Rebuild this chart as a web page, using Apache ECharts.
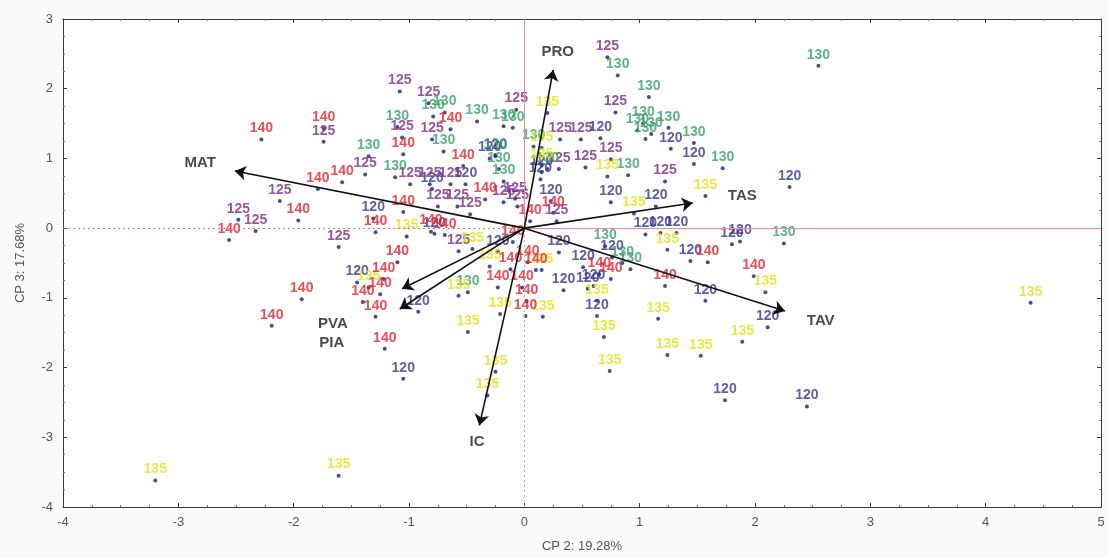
<!DOCTYPE html>
<html><head><meta charset="utf-8">
<script src="https://cdn.jsdelivr.net/npm/echarts@6/dist/echarts.min.js"></script>
<style>html,body{margin:0;padding:0;background:#fafaf8}#c{width:1108px;height:558px}</style>
</head><body><div id="c"></div>
<script>
// ---- data ----
const groupNames = ['120', '125', '130', '135', '140'];
const groupColors = ['#33378f', '#7d2c86', '#36a06a', '#e2e21a', '#e8202a'];

const g120 = [[0.66,1.29],[1.27,1.14],[1.47,0.92],[1.14,0.31],[0.75,0.37],[2.30,0.59],[-1.31,0.14],
  [-0.30,1.00],[-0.51,0.63],[-0.80,0.56],[-0.78,-0.08],[-0.23,-0.34],[0.34,-0.89],[-0.92,-1.20],
  [-1.05,-2.16],[-1.45,-0.78],[0.63,-1.26],[1.57,-1.04],[2.11,-1.42],[1.74,-2.47],[2.45,-2.56],
  [0.60,-0.83],[1.05,-0.09],[1.18,-0.07],[1.32,-0.07],[0.76,-0.42],[1.80,-0.23],[1.87,-0.19],
  [1.44,-0.47],[0.55,-0.87],[0.23,0.39],[0.15,0.80],[0.14,0.70],[-0.25,1.03],[0.51,-0.56],[0.30,-0.35]];
const g125 = [[0.72,2.45],[0.79,1.66],[1.22,0.67],[0.75,0.99],[0.53,0.87],[0.31,1.27],[0.49,1.27],
  [-0.07,1.70],[-1.08,1.96],[-0.83,1.79],[-1.06,1.30],[-0.80,1.27],[-1.74,1.24],[-2.12,0.39],
  [-2.48,0.12],[-2.33,-0.04],[-1.61,-0.27],[-1.38,0.77],[-0.99,0.63],[-0.82,0.63],[-0.64,0.63],
  [-0.75,0.31],[-0.58,0.31],[-0.18,0.37],[-0.06,0.31],[-0.57,-0.33],[0.28,0.10],[0.30,0.85],
  [-0.08,0.42],[-0.47,0.20]];
const g130 = [[0.81,2.19],[1.08,1.88],[1.03,1.50],[0.98,1.40],[1.10,1.35],[1.05,1.28],[1.25,1.44],
  [1.47,1.22],[1.72,0.86],[0.90,0.76],[2.55,2.33],[2.25,-0.22],[-1.35,1.03],[-1.10,1.45],
  [-0.18,1.46],[-0.10,1.44],[-0.41,1.53],[-0.69,1.66],[-0.70,1.10],[-0.25,1.05],[-0.22,0.85],
  [-1.12,0.73],[0.08,1.17],[0.20,0.85],[-0.18,0.67],[-0.49,-0.92],[0.70,-0.26],[0.92,-0.59],
  [0.85,-0.50],[-0.79,1.60]];
const g135 = [[-3.20,-3.62],[-1.61,-3.55],[4.39,-1.07],[-0.49,-1.49],[-0.25,-2.06],[-0.32,-2.40],
  [0.69,-1.56],[0.74,-2.05],[1.16,-1.30],[1.24,-1.82],[1.53,-1.83],[1.89,-1.63],[2.09,-0.92],
  [0.63,-1.04],[0.16,-1.27],[-0.21,-1.23],[-0.57,-0.97],[-0.45,-0.30],[-1.35,-0.85],[1.57,0.46],
  [0.95,0.21],[0.72,0.74],[0.20,1.65],[0.15,1.15],[0.15,0.90],[1.24,-0.31],[-1.02,-0.12],
  [-0.30,-0.55],[0.15,-0.60]];
const g140 = [[-2.28,1.27],[-1.74,1.43],[-1.79,0.56],[-1.58,0.66],[-1.96,0.11],[-2.56,-0.17],
  [-1.29,-0.06],[-1.05,1.06],[-0.64,1.42],[-0.53,0.89],[-0.34,0.41],[-1.05,0.23],[-0.81,-0.05],
  [-0.69,-0.10],[-0.10,-0.20],[-0.12,-0.59],[0.03,-0.49],[0.10,-0.60],[-0.23,-0.85],[-0.02,-0.85],
  [0.02,-1.05],[0.01,-1.26],[1.22,-0.83],[1.99,-0.69],[0.75,-0.73],[1.59,-0.49],[0.25,0.22],
  [-1.10,-0.49],[-1.22,-0.73],[-1.93,-1.02],[-2.19,-1.40],[-1.40,-1.06],[-1.25,-0.95],[-1.29,-1.27],
  [-1.21,-1.73],[0.65,-0.66],[0.05,0.10]];
const groupData = [g120, g125, g130, g135, g140];

const vectorNames = ['PRO', 'MAT', 'TAS', 'TAV', 'PVA', 'PIA', 'IC'];
const vectorTips = [[0.25,2.27],[-2.51,0.82],[1.46,0.36],[2.26,-1.19],[-1.06,-0.87],[-1.08,-1.16],[-0.39,-2.83]];
const vectorLabelAt = [[0.29,2.53],[-2.81,0.93],[1.89,0.46],[2.57,-1.33],[-1.66,-1.37],[-1.67,-1.65],[-0.41,-3.06]];

const xTitle = 'CP 2: 19.28%';
const yTitle = 'CP 3: 17.68%';
const xMin = -4, xMax = 5, yMin = -4, yMax = 3;

// ---- chart ----
const chart = echarts.init(document.getElementById('c'), null, {renderer: 'canvas'});
const frameColor = '#3a3a3a';
const FONT = 'Liberation Sans, Arial, sans-serif';
function axisBase(extra) {
  return Object.assign({
    type: 'value', interval: 1,
    axisLine: {show: true, onZero: false, lineStyle: {color: frameColor, width: 1}},
    axisTick: {show: true, inside: true, length: 4, lineStyle: {color: frameColor}},
    minorTick: {show: true, splitNumber: 4, length: 2, lineStyle: {color: '#777'}},
    splitLine: {show: false},
    axisLabel: {color: '#555', fontSize: 13, fontFamily: FONT}
  }, extra);
}

const series = [];
groupData.forEach((d, i) => {
  series.push({
    type: 'scatter', name: groupNames[i], data: d, symbol: 'circle', symbolSize: 4,
    itemStyle: {color: '#1d2170'},
    label: {show: true, position: 'top', distance: 2, formatter: groupNames[i],
      color: groupColors[i], fontSize: 14, fontWeight: 'bold', fontFamily: FONT},
    z: 3
  });
});
series.push({
  type: 'lines', coordinateSystem: 'cartesian2d', z: 5,
  symbol: ['none', 'arrow'], symbolSize: [0, 11],
  lineStyle: {color: '#111', width: 1.6, opacity: 1},
  data: vectorTips.map(t => ({coords: [[0, 0], t]}))
});
series.push({
  type: 'scatter', symbolSize: 0, z: 6, silent: true,
  data: vectorLabelAt.map((p, i) => ({value: p, name: vectorNames[i]})),
  label: {show: true, position: 'inside', formatter: p => p.name, color: '#1a1a1a',
    fontSize: 15, fontWeight: 'bold', fontFamily: FONT}
});
// reference lines at zero
series.push({
  type: 'line', data: [], silent: true,
  markLine: {
    symbol: 'none', silent: true, label: {show: false},
    data: [
      [{coord: [xMin, 0], lineStyle: {type: [2, 3], color: '#ef6f7f', width: 1}}, {coord: [0, 0]}],
      [{coord: [0, 0], lineStyle: {type: 'solid', color: '#f08a96', width: 1}}, {coord: [xMax, 0]}],
      [{coord: [0, yMin], lineStyle: {type: [2, 3], color: '#c9a0a8', width: 1}}, {coord: [0, 0]}],
      [{coord: [0, 0], lineStyle: {type: 'solid', color: '#f08a96', width: 1}}, {coord: [0, yMax]}]
    ]
  },
  z: 1
});

chart.setOption({
  backgroundColor: '#fafaf8',
  animation: false,
  grid: {left: 63, right: 7, top: 19, bottom: 50, show: true, backgroundColor: '#ffffff', borderWidth: 0},
  xAxis: [
    axisBase({min: xMin, max: xMax, position: 'bottom', name: xTitle, nameLocation: 'middle', nameGap: 33,
      nameTextStyle: {color: '#555', fontSize: 13, fontFamily: FONT},
      axisLabel: {color: '#555', fontSize: 13, margin: 9, fontFamily: FONT}}),
    axisBase({min: xMin, max: xMax, position: 'top', axisLabel: {show: false}})
  ],
  yAxis: [
    axisBase({min: yMin, max: yMax, position: 'left', name: yTitle, nameLocation: 'middle', nameGap: 36,
      nameTextStyle: {color: '#555', fontSize: 13, fontFamily: FONT},
      axisLabel: {color: '#555', fontSize: 13, margin: 10, fontFamily: FONT}}),
    axisBase({min: yMin, max: yMax, position: 'right', axisLabel: {show: false}})
  ],
  series: series
});
</script></body></html>
